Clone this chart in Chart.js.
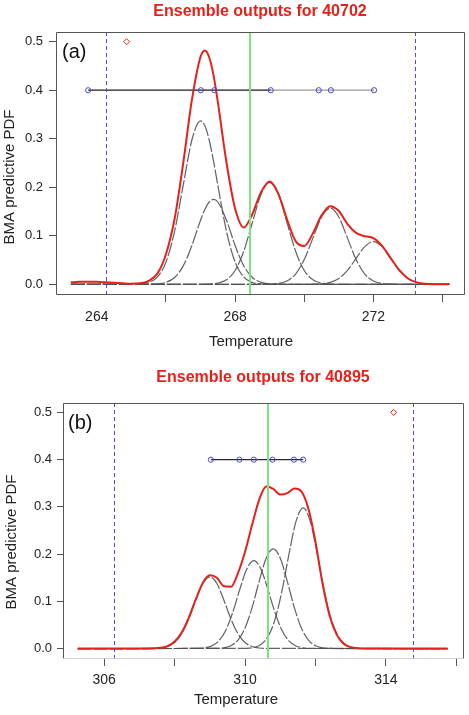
<!DOCTYPE html>
<html lang="en">
<head>
  <meta charset="UTF-8">
  <title>Ensemble outputs - BMA predictive PDF</title>
  <script src="https://cdn.jsdelivr.net/npm/chart.js@4"></script>
  <style>
    body { margin: 0; background: #fff; }
    canvas { display: block; }
  </style>
</head>
<body>
  <canvas id="chartA" width="469" height="355"></canvas>
  <canvas id="chartB" width="469" height="360"></canvas>

  <script>
    // ---- panel (a): station 40702 ----
    const tempA = [263.25, 263.5, 263.75, 264, 264.25, 264.5, 264.75, 265, 265.25, 265.5, 265.75, 266,
                   266.25, 266.5, 266.75, 267, 267.125, 267.25, 267.375, 267.5, 267.75, 268, 268.25, 268.5,
                   268.75, 269, 269.25, 269.5, 269.75, 270, 270.25, 270.5, 270.75, 271, 271.25, 271.5,
                   271.75, 272, 272.25, 272.5, 272.75, 273, 273.25, 273.5, 273.75, 274, 274.2];
    // BMA mixture (red)
    const bmaA = [0.004, 0.005, 0.0055, 0.005, 0.004, 0.003, 0.002, 0.0013, 0.002, 0.007, 0.022, 0.062,
                  0.135, 0.25, 0.38, 0.469, 0.482, 0.468, 0.431, 0.376, 0.251, 0.156, 0.117, 0.145,
                  0.19, 0.212, 0.187, 0.134, 0.089, 0.079, 0.105, 0.142, 0.161, 0.151, 0.124, 0.106,
                  0.099, 0.095, 0.079, 0.054, 0.029, 0.012, 0.004, 0.001, 0.0002, 0, 0];
    // weighted member densities (grey dashed)
    const member1A = [0, 0, 0, 0, 0, 0, 0, 0.0001, 0.0007, 0.0037, 0.0148, 0.0456,
                      0.1094, 0.2044, 0.2974, 0.337, 0.3266, 0.2974, 0.2544, 0.2044, 0.1094, 0.0456, 0.0148, 0.0037,
                      0.0007, 0.0001, 0, 0, 0, 0, 0, 0, 0, 0, 0, 0,
                      0, 0, 0, 0, 0, 0, 0, 0, 0, 0, 0];
    const member2A = [0, 0, 0, 0, 0, 0, 0, 0, 0, 0.0002, 0.0009, 0.004,
                      0.0139, 0.0379, 0.0801, 0.1321, 0.1544, 0.1696, 0.175, 0.1696, 0.1321, 0.0801, 0.0379, 0.0139,
                      0.004, 0.0009, 0.0002, 0, 0, 0, 0, 0, 0, 0, 0, 0,
                      0, 0, 0, 0, 0, 0, 0, 0, 0, 0, 0];
    const member3A = [0, 0, 0, 0, 0, 0, 0, 0, 0, 0, 0, 0,
                      0, 0, 0, 0.0001, 0.0002, 0.0005, 0.0011, 0.0023, 0.0092, 0.0284, 0.0682, 0.1274,
                      0.1853, 0.21, 0.1853, 0.1274, 0.0682, 0.0284, 0.0092, 0.0023, 0.0005, 0.0001, 0, 0,
                      0, 0, 0, 0, 0, 0, 0, 0, 0, 0, 0];
    const member4A = [0, 0, 0, 0, 0, 0, 0, 0, 0, 0, 0, 0,
                      0, 0, 0, 0, 0, 0, 0, 0, 0, 0, 0, 0,
                      0.0001, 0.0003, 0.0017, 0.0069, 0.0212, 0.051, 0.0952, 0.1386, 0.157, 0.1386, 0.0952, 0.051,
                      0.0212, 0.0069, 0.0017, 0.0003, 0.0001, 0, 0, 0, 0, 0, 0];
    const member5A = [0, 0, 0, 0, 0, 0, 0, 0, 0, 0, 0, 0,
                      0, 0, 0, 0, 0, 0, 0, 0, 0, 0, 0, 0,
                      0, 0, 0, 0, 0, 0, 0.0002, 0.001, 0.0039, 0.0119, 0.0286, 0.0534,
                      0.0777, 0.088, 0.0777, 0.0534, 0.0286, 0.0119, 0.0039, 0.001, 0.0002, 0, 0];
    const ensembleA = [263.75, 267.01, 267.40, 269.03, 270.42, 270.77, 272.02];
    const obsMarkA = [264.86];
    const quantilesA = [264.26, 273.19];
    const verifyA = 268.42;

    // ---- panel (b): station 40895 ----
    const tempB = [305.25, 307.0, 307.4, 307.6, 307.8, 308.0, 308.2, 308.4, 308.6, 308.8, 309.0, 309.2,
                   309.4, 309.6, 309.8, 310.0, 310.2, 310.4, 310.6, 310.8, 311.0, 311.2, 311.4, 311.6,
                   311.8, 312.0, 312.2, 312.4, 312.6, 312.8, 313.0, 313.2, 313.4, 314.0, 315.75];
    const bmaB = [0, 0, 0.0004, 0.0015, 0.005, 0.015, 0.034, 0.065, 0.104, 0.139, 0.155, 0.150,
                  0.132, 0.131, 0.160, 0.205, 0.262, 0.315, 0.343, 0.338, 0.326, 0.329, 0.339, 0.333,
                  0.296, 0.226, 0.138, 0.070, 0.030, 0.010, 0.003, 0.0008, 0.0002, 0, 0];
    const member1BT = [305.25, 307.4, 307.6, 307.8, 308.0, 308.2, 308.4, 308.6, 308.8, 309.0,
                       309.2, 309.4, 309.6, 309.8, 310.0, 310.2, 310.4, 310.6, 315.75];
    const member1B = [0, 0.0003, 0.0012, 0.0043, 0.0129, 0.0313, 0.0625, 0.1024, 0.1377, 0.152,
                      0.1377, 0.1024, 0.0625, 0.0313, 0.0129, 0.0043, 0.0012, 0.0003, 0];
    const member2BT = [305.25, 308.65, 308.85, 309.05, 309.25, 309.45, 309.65, 309.85, 310.05, 310.25,
                       310.45, 310.65, 310.85, 311.05, 311.25, 311.45, 311.65, 311.85, 315.75];
    const member2B = [0, 0.0003, 0.0015, 0.0053, 0.0158, 0.0383, 0.0765, 0.1253, 0.1685, 0.186,
                      0.1685, 0.1253, 0.0765, 0.0383, 0.0158, 0.0053, 0.0015, 0.0003, 0];
    const member3BT = [305.25, 309.2, 309.4, 309.6, 309.8, 310.0, 310.2, 310.4, 310.6, 310.8,
                       311.0, 311.2, 311.4, 311.6, 311.8, 312.0, 312.2, 312.4, 315.75];
    const member3B = [0, 0.0004, 0.0017, 0.006, 0.0179, 0.0434, 0.0867, 0.1421, 0.1912, 0.211,
                      0.1912, 0.1421, 0.0867, 0.0434, 0.0179, 0.006, 0.0017, 0.0004, 0];
    const member4BT = [305.25, 310.05, 310.25, 310.45, 310.65, 310.85, 311.05, 311.25, 311.45, 311.65,
                       311.85, 312.05, 312.25, 312.45, 312.65, 312.85, 313.05, 313.25, 315.75];
    const member4B = [0, 0.0005, 0.0024, 0.0085, 0.0252, 0.0613, 0.1225, 0.2007, 0.27, 0.298,
                      0.27, 0.2007, 0.1225, 0.0613, 0.0252, 0.0085, 0.0024, 0.0005, 0];
    const ensembleB = [309.03, 309.84, 310.25, 310.78, 311.39, 311.65];
    const obsMarkB = [314.22];
    const quantilesB = [306.28, 314.76];
    const verifyB = 310.64;

    // shared axis settings
    const yTicks = [0, 0.1, 0.2, 0.3, 0.4, 0.5];
    const xTicksA = [264, 266, 268, 270, 272, 274];
    const xLabelsA = [264, 268, 272];
    const xTicksB = [306, 308, 310, 312, 314, 316];
    const xLabelsB = [306, 310, 314];
    const memberLevel = 0.4;   // ensemble members are plotted on this line
    const markLevel = 0.5;

    const FONT = '"Liberation Sans", Arial, sans-serif';
    Chart.defaults.font.family = FONT;
    Chart.defaults.color = '#222';

    function xy(xs, ys) { return xs.map((x, i) => ({ x: x, y: ys[i] })); }
    function atLevel(xs, level) { return xs.map(x => ({ x: x, y: level })); }

    function memberCurve(xs, ys) {
      return { data: xy(xs, ys), borderColor: 'rgba(80,80,80,0.9)', borderWidth: 1.2, borderDash: [14, 2],
               pointRadius: 0, cubicInterpolationMode: 'monotone', order: 4 };
    }
    function bmaCurve(xs, ys) {
      return { data: xy(xs, ys), borderColor: '#e4221b', borderWidth: 2, pointRadius: 0,
               cubicInterpolationMode: 'monotone', order: 1 };
    }
    function stripLine(xs, color) {
      return { data: atLevel(xs, memberLevel), borderColor: color, borderWidth: 1.2, pointRadius: 0, order: 2 };
    }
    function stripPoints(xs) {
      return { data: atLevel(xs, memberLevel), showLine: false, pointStyle: 'circle', pointRadius: 2.6,
               pointBorderColor: '#4848d0', pointBackgroundColor: 'rgba(0,0,0,0)', pointBorderWidth: 1, order: 0 };
    }
    function markPoint(xs) {
      return { data: atLevel(xs, markLevel), showLine: false, pointStyle: 'rectRot', pointRadius: 3,
               pointBorderColor: '#e4221b', pointBackgroundColor: 'rgba(0,0,0,0)', pointBorderWidth: 1, order: 0 };
    }

    // box round the plot region, the (a)/(b) tag and the axis titles
    const framePlugin = {
      id: 'frame',
      afterDraw(chart, args, opts) {
        const { ctx, chartArea: a } = chart;
        const L = Math.round(a.left) + 0.5, R = Math.round(a.right) + 0.5;
        const T = Math.round(a.top) + 0.5, B = Math.round(a.bottom) + 0.5;
        ctx.save();
        ctx.strokeStyle = '#555';
        ctx.lineWidth = 1;
        ctx.beginPath();
        ctx.moveTo(L, B); ctx.lineTo(L, T); ctx.lineTo(R, T); ctx.lineTo(R, B);
        ctx.stroke();
        ctx.strokeStyle = opts.bottomColor;
        ctx.beginPath();
        ctx.moveTo(L, B); ctx.lineTo(R, B);
        ctx.stroke();

        ctx.fillStyle = '#111';
        ctx.font = '20px ' + FONT;
        ctx.textBaseline = 'middle';
        ctx.fillText(opts.tag, a.left + opts.tagDx, a.top + 20);

        ctx.fillStyle = '#222';
        ctx.font = '15px ' + FONT;
        ctx.textAlign = 'center';
        ctx.fillText('Temperature', opts.xTitle[0], opts.xTitle[1]);
        ctx.translate(opts.yTitle[0], opts.yTitle[1]);
        ctx.rotate(-Math.PI / 2);
        ctx.fillText('BMA predictive PDF', 0, 0);
        ctx.restore();
      }
    };

    // quantile lines (blue dashed) and verifying value (green)
    const refLinePlugin = {
      id: 'refLines',
      afterDatasetsDraw(chart, args, opts) {
        const { ctx, chartArea: a, scales: { x } } = chart;
        ctx.save();
        ctx.beginPath();
        ctx.rect(a.left, a.top, a.right - a.left, a.bottom - a.top);
        ctx.clip();
        ctx.strokeStyle = '#4a4ade';
        ctx.lineWidth = 1;
        ctx.setLineDash([4, 3]);
        opts.quantiles.forEach(q => {
          const px = Math.round(x.getPixelForValue(q)) + 0.5;
          ctx.beginPath();
          ctx.moveTo(px, a.top);
          ctx.lineTo(px, a.bottom);
          ctx.stroke();
        });
        ctx.setLineDash([]);
        ctx.strokeStyle = '#7fe27f';
        ctx.lineWidth = 2;
        const gx = Math.round(x.getPixelForValue(opts.verify));
        ctx.beginPath();
        ctx.moveTo(gx, a.top);
        ctx.lineTo(gx, a.bottom);
        ctx.stroke();
        ctx.restore();
      }
    };

    function makePanel(id, p) {
      return new Chart(document.getElementById(id), {
        type: 'line',
        data: { datasets: p.datasets },
        options: {
          responsive: false,
          animation: false,
          devicePixelRatio: 1,
          layout: { padding: { left: 0, right: p.padRight, top: 0, bottom: 0 } },
          plugins: {
            legend: { display: false },
            tooltip: { enabled: false },
            title: {
              display: true, text: p.title, color: '#e4221b', fullSize: false,
              font: { size: 16, weight: 'bold' }, padding: p.titlePad
            },
            frame: { tag: p.tag, tagDx: p.tagDx, bottomColor: p.bottomColor, xTitle: p.xTitle, yTitle: p.yTitle },
            refLines: { quantiles: p.quantiles, verify: p.verify }
          },
          scales: {
            x: {
              type: 'linear', min: p.xMin, max: p.xMax,
              afterFit: s => { s.height = p.xAxisH; },
              afterBuildTicks: s => { s.ticks = p.xTicks.map(v => ({ value: v })); },
              grid: {
                drawOnChartArea: false, tickLength: 8,
                tickColor: c => (c.tick && p.noTick.includes(c.tick.value)) ? 'rgba(0,0,0,0)' : '#555'
              },
              border: { display: false },
              ticks: {
                autoSkip: false, maxRotation: 0, padding: p.xTickPad, font: { size: 14 },
                callback: v => p.xLabels.includes(v) ? String(v) : ''
              },
              title: { display: false }
            },
            y: {
              min: -0.02, max: 0.52,
              afterFit: s => { s.width = p.yAxisW; },
              afterBuildTicks: s => { s.ticks = yTicks.map(v => ({ value: v })); },
              grid: { drawOnChartArea: false, tickLength: p.yTickLen, tickColor: '#555' },
              border: { display: false },
              ticks: { padding: p.yTickPad, font: { size: 13 }, callback: v => v.toFixed(1) },
              title: { display: false }
            }
          }
        },
        plugins: [framePlugin, refLinePlugin]
      });
    }

    makePanel('chartA', {
      title: 'Ensemble outputs for 40702', tag: '(a)', tagDx: 6, bottomColor: '#555',
      xMin: 262.82, xMax: 274.62, xTicks: xTicksA, xLabels: xLabelsA, noTick: [264],
      padRight: 3, yAxisW: 56, xAxisH: 61, titlePad: { top: 2.4, bottom: 10.4 },
      yTickLen: 7, yTickPad: 6, xTickPad: 7,
      xTitle: [251, 342], yTitle: [10, 177],
      quantiles: quantilesA, verify: verifyA,
      datasets: [
        bmaCurve(tempA, bmaA),
        memberCurve(tempA, member1A),
        memberCurve(tempA, member2A),
        memberCurve(tempA, member3A),
        memberCurve(tempA, member4A),
        memberCurve(tempA, member5A),
        stripLine(ensembleA.slice(0, 4), '#1a1a1a'),
        stripLine(ensembleA.slice(3), '#9a9a9a'),
        stripPoints(ensembleA),
        markPoint(obsMarkA)
      ]
    });

    makePanel('chartB', {
      title: 'Ensemble outputs for 40895', tag: '(b)', tagDx: 5, bottomColor: '#d0d0d0',
      xMin: 304.83, xMax: 316.19, xTicks: xTicksB, xLabels: xLabelsB, noTick: [],
      padRight: 6, yAxisW: 63, xAxisH: 57, titlePad: { top: 13.4, bottom: 15.4 },
      yTickLen: 6, yTickPad: 5, xTickPad: 6,
      xTitle: [236, 345], yTitle: [12, 187],
      quantiles: quantilesB, verify: verifyB,
      datasets: [
        bmaCurve(tempB, bmaB),
        memberCurve(member1BT, member1B),
        memberCurve(member2BT, member2B),
        memberCurve(member3BT, member3B),
        memberCurve(member4BT, member4B),
        stripLine(ensembleB, '#262640'),
        stripPoints(ensembleB),
        markPoint(obsMarkB)
      ]
    });
  </script>
</body>
</html>
